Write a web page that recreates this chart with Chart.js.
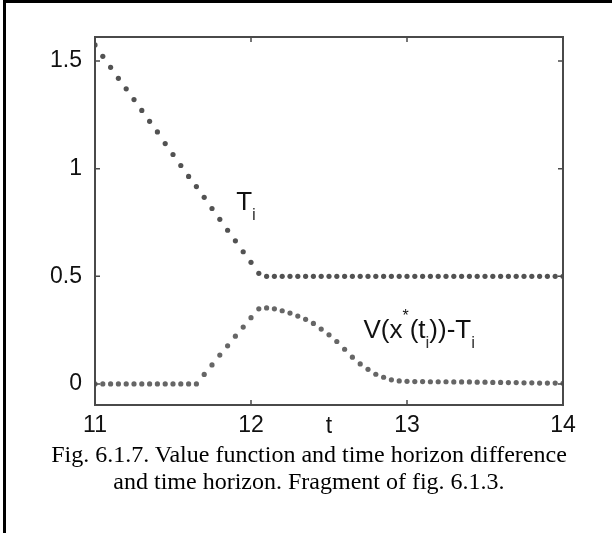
<!DOCTYPE html>
<html>
<head>
<meta charset="utf-8">
<script src="https://cdn.jsdelivr.net/npm/chart.js@4.4.1/dist/chart.umd.min.js"></script>
<style>
  html, body { margin: 0; padding: 0; background: #fff; }
  #wrap { position: relative; width: 612px; height: 533px; overflow: hidden; }
  #wrap canvas { position: absolute; left: 0; top: 0; }
  .frame-left { position: absolute; left: 3px; top: 0; width: 3px; height: 533px; background: #000; }
  .frame-top { position: absolute; left: 3px; top: 0; width: 609px; height: 3px; background: #000; }
  #caption {
    position: absolute; left: 6px; right: 0; top: 441px;
    text-align: center; color: #000;
    font-family: "Liberation Serif", "Times New Roman", serif;
    font-size: 24px; line-height: 27px;
  }
</style>
</head>
<body>
<div id="wrap">
  <canvas id="chart" width="612" height="533"></canvas>
  <div class="frame-left"></div>
  <div class="frame-top"></div>
  <div id="caption">Fig. 6.1.7. Value function and time horizon difference<br>and time horizon. Fragment of fig. 6.1.3.</div>
</div>
<script>
// Muestras t_i (paso 0.05 entre 11 y 14)
const tValues = [
  11.00, 11.05, 11.10, 11.15, 11.20, 11.25, 11.30, 11.35, 11.40, 11.45,
  11.50, 11.55, 11.60, 11.65, 11.70, 11.75, 11.80, 11.85, 11.90, 11.95,
  12.00, 12.05, 12.10, 12.15, 12.20, 12.25, 12.30, 12.35, 12.40, 12.45,
  12.50, 12.55, 12.60, 12.65, 12.70, 12.75, 12.80, 12.85, 12.90, 12.95,
  13.00, 13.05, 13.10, 13.15, 13.20, 13.25, 13.30, 13.35, 13.40, 13.45,
  13.50, 13.55, 13.60, 13.65, 13.70, 13.75, 13.80, 13.85, 13.90, 13.95,
  14.00,
];

// T_i
const horizonValues = [
  1.575, 1.522, 1.471, 1.420, 1.371, 1.321, 1.271, 1.220, 1.171, 1.117,
  1.066, 1.015, 0.964, 0.917, 0.867, 0.815, 0.765, 0.714, 0.665, 0.614,
  0.565, 0.514, 0.500, 0.500, 0.500, 0.500, 0.500, 0.500, 0.500, 0.500,
  0.500, 0.500, 0.500, 0.500, 0.500, 0.500, 0.500, 0.500, 0.500, 0.500,
  0.500, 0.500, 0.500, 0.500, 0.500, 0.500, 0.500, 0.500, 0.500, 0.500,
  0.500, 0.500, 0.500, 0.500, 0.500, 0.500, 0.500, 0.500, 0.500, 0.500,
  0.500,
];

// V(x*(t_i)) - T_i
const diffValues = [
  0.000, 0.000, 0.000, 0.000, 0.000, 0.000, 0.000, 0.000, 0.000, 0.000,
  0.000, 0.000, 0.000, 0.000, 0.044, 0.088, 0.134, 0.177, 0.222, 0.264,
  0.308, 0.349, 0.353, 0.349, 0.340, 0.329, 0.315, 0.300, 0.281, 0.255,
  0.228, 0.197, 0.161, 0.124, 0.093, 0.068, 0.045, 0.031, 0.019, 0.014,
  0.012, 0.011, 0.011, 0.010, 0.010, 0.010, 0.009, 0.009, 0.009, 0.008,
  0.008, 0.007, 0.007, 0.006, 0.006, 0.005, 0.005, 0.004, 0.004, 0.004,
  0.003,
];

const xTicks = [11, 12, 13, 14];
const yTicks = [0, 0.5, 1, 1.5];
const xTitle = "t";

const AXIS_COLOR = "#4a4a4a";
const SANS = '"Liberation Sans", Arial, sans-serif';

// Etiquetas dentro del área: ancla (t, valor) en coords de datos, línea base
const horizonLabel = { t: 11.905, v: 0.806, runs: [["T", "main"], ["i", "sub"]] };
const diffLabel = {
  t: 12.721, v: 0.214,
  runs: [["V(x", "main"], ["*", "sup"], [" (t", "main"], ["i", "sub"], ["))-T", "main"], ["i", "sub"]],
};

function drawRuns(ctx, x0, y0, runs) {
  let x = x0;
  runs.forEach(([text, kind]) => {
    let size = 26, dy = 0, color = "#111";
    if (kind === "sub") { size = 17; dy = 10; color = "#333"; }
    if (kind === "sup") { size = 16; dy = -17; }
    ctx.font = `${size}px ${SANS}`;
    ctx.fillStyle = color;
    ctx.fillText(text, x, y0 + dy);
    // el asterisco queda encima, sin avanzar
    if (kind !== "sup") x += ctx.measureText(text).width;
  });
}

// Caja estilo MATLAB con ticks hacia adentro, título "t" y etiquetas
const frameAndLabels = {
  id: "frameAndLabels",
  afterDatasetsDraw(chart) {
    const { ctx, chartArea: a, scales: { x, y } } = chart;
    ctx.save();
    ctx.strokeStyle = AXIS_COLOR;
    ctx.lineWidth = 2;
    ctx.strokeRect(a.left, a.top, a.right - a.left, a.bottom - a.top);

    ctx.lineWidth = 1.5;
    ctx.beginPath();
    xTicks.forEach((v) => {
      const px = x.getPixelForValue(v);
      ctx.moveTo(px, a.bottom); ctx.lineTo(px, a.bottom - 5);
      ctx.moveTo(px, a.top); ctx.lineTo(px, a.top + 5);
    });
    yTicks.forEach((v) => {
      const py = y.getPixelForValue(v);
      ctx.moveTo(a.left, py); ctx.lineTo(a.left + 5, py);
      ctx.moveTo(a.right, py); ctx.lineTo(a.right - 5, py);
    });
    ctx.stroke();

    // "t" en la misma fila que los números del eje x
    ctx.font = `23px ${SANS}`;
    ctx.fillStyle = "#111";
    ctx.textAlign = "center";
    ctx.textBaseline = "alphabetic";
    ctx.fillText(xTitle, (a.left + a.right) / 2, 433);

    ctx.textAlign = "left";
    [horizonLabel, diffLabel].forEach((lab) => {
      drawRuns(ctx, x.getPixelForValue(lab.t), y.getPixelForValue(lab.v), lab.runs);
    });
    ctx.restore();
  },
};

const toPoints = (vals) => tValues.map((t, i) => ({ x: t, y: vals[i] }));
const dotStyle = (color) => ({
  showLine: false,
  pointRadius: 2.6,
  pointHoverRadius: 2.6,
  pointBorderWidth: 0,
  pointBackgroundColor: color,
  borderColor: color,
});

new Chart(document.getElementById("chart"), {
  type: "scatter",
  data: {
    datasets: [
      { label: "T_i", data: toPoints(horizonValues), ...dotStyle("#525252") },
      { label: "V(x*(t_i))-T_i", data: toPoints(diffValues), ...dotStyle("#666666") },
    ],
  },
  options: {
    responsive: false,
    animation: false,
    devicePixelRatio: 1,
    layout: { padding: { top: 37, right: 49, left: 0, bottom: 0 } },
    plugins: { legend: { display: false }, tooltip: { enabled: false } },
    scales: {
      x: {
        type: "linear",
        min: 11,
        max: 14,
        afterBuildTicks: (s) => { s.ticks = xTicks.map((v) => ({ value: v })); },
        afterFit: (s) => { s.height = 128; },
        grid: { display: false },
        border: { display: false },
        ticks: {
          padding: 1,
          color: "#111",
          font: { family: SANS, size: 23, lineHeight: 1 },
          callback: (v) => String(v),
        },
      },
      y: {
        type: "linear",
        min: -0.098,
        max: 1.612,
        afterBuildTicks: (s) => { s.ticks = yTicks.map((v) => ({ value: v })); },
        afterFit: (s) => { s.width = 95; },
        grid: { display: false },
        border: { display: false },
        ticks: {
          padding: 5,
          color: "#111",
          font: { family: SANS, size: 23 },
          callback: (v) => String(v),
        },
      },
    },
  },
  plugins: [frameAndLabels],
});
</script>
</body>
</html>
